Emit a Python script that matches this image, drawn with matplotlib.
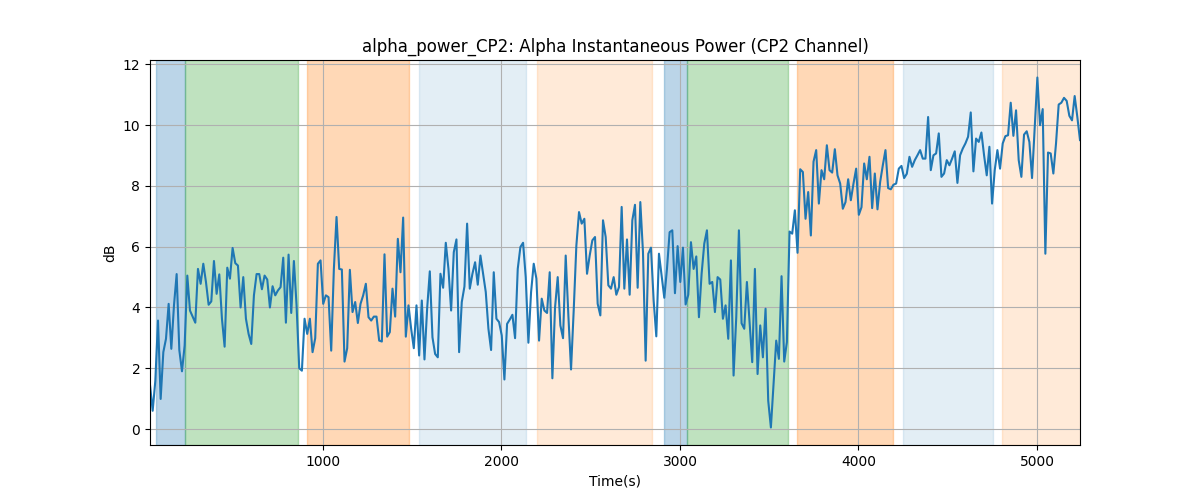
# alpha power trace for CP2 with task blocks shaded
import numpy as np
import matplotlib
matplotlib.use("Agg")
import matplotlib.pyplot as plt

# dB values, one every ~15 s
power_db = [
    1.45, 0.6, 1.59, 3.57, 0.99, 2.53, 2.97, 4.12, 2.64, 4.07, 5.1, 2.6, 1.9, 2.75, 5.05, 3.9, 3.7, 3.5,
    5.27, 4.78, 5.44, 4.84, 4.09, 4.2, 5.53, 4.45, 5.09, 3.63, 2.71, 5.31, 4.95, 5.96, 5.46, 5.38, 4.0,
    5.0, 3.63, 3.13, 2.8, 4.4, 5.1, 5.1, 4.6, 5.05, 4.92, 4.0, 4.7, 4.4, 4.56, 4.67, 5.64, 3.5, 5.74,
    3.82, 5.53, 4.07, 2.0, 1.92, 3.63, 3.13, 3.63, 2.53, 2.99, 5.44, 5.55, 4.12, 4.4, 4.34, 2.58, 5.27,
    6.98, 5.27, 5.25, 2.22, 2.66, 5.24, 3.85, 4.18, 3.49, 4.12, 4.4, 4.78, 3.68, 3.57, 3.7, 3.7, 2.91,
    2.88, 5.75, 3.04, 3.19, 4.62, 3.7, 6.26, 5.16, 6.96, 3.04, 4.07, 3.3, 2.66, 4.07, 2.42, 4.23, 2.29,
    3.96, 5.19,
    3.02, 2.47, 2.36, 5.11, 4.65, 6.13, 5.27, 3.9, 5.82, 6.24, 2.53, 4.18, 4.69, 6.76, 4.62, 5.11, 5.49,
    4.75, 5.71, 5.11, 4.51, 3.3, 2.6, 5.16, 3.63, 3.52, 3.08, 1.63, 3.46, 3.6, 3.76, 2.99, 5.27, 5.99,
    6.13, 5.0,
    2.84, 4.5, 5.44, 4.95, 2.91, 4.29, 3.9, 3.82, 5.16, 1.67, 4.0, 5.0, 3.41, 2.99, 5.71, 3.74, 1.96,
    3.9, 6.04, 7.14, 6.76, 6.92, 5.11, 5.71, 6.21, 6.32, 4.12, 3.74, 6.87, 6.32, 4.73, 4.62, 5.0, 4.42,
    4.67,
    7.31, 4.62, 6.24, 4.42, 6.87, 7.38, 4.65, 7.47, 5.82, 2.25, 5.77, 5.97, 4.23, 3.05, 5.77, 5.05, 4.32,
    5.27, 6.48, 6.54, 4.47, 6.02, 4.84, 5.97, 4.1, 4.42, 6.15, 5.27, 5.68, 3.68, 5.11, 6.1, 6.54, 4.78,
    4.84, 3.85,
    5.0, 4.92, 3.63, 4.07, 2.97, 5.55, 1.76, 3.68, 6.54, 3.48, 3.3, 4.84, 3.52, 2.2, 5.27, 1.81, 3.41,
    2.36, 3.96, 0.93, 0.05, 1.48, 2.91, 2.31, 5.03, 2.22, 2.86, 6.5, 6.43, 7.2, 5.8, 8.55, 8.46, 6.92, 7.8,
    6.37, 8.8, 9.18, 7.42, 8.52, 8.22, 9.34, 8.52, 8.44, 9.21, 8.35, 8.08, 7.25, 7.47, 8.22, 7.53, 8.08,
    8.57, 7.05, 7.3, 8.74, 8.22, 8.96, 7.27, 8.41, 7.23, 8.13, 8.68, 9.18, 7.93, 7.89, 8.04, 8.08, 8.57,
    8.66, 8.26,
    8.4, 8.96, 8.63, 8.85, 9.01, 9.18, 8.9, 8.9, 10.27, 8.52, 9.01, 9.07, 9.73, 8.3, 8.41, 8.85, 8.68,
    8.9, 9.14, 8.1, 9.01, 9.23, 9.4, 9.62, 10.42, 8.48, 9.56, 9.45, 9.76, 9.01, 8.35, 9.29, 7.42, 8.52,
    9.18, 8.57,
    9.4, 9.64, 9.67, 10.74, 9.65, 10.49, 8.85, 8.3, 9.69, 9.8, 9.45, 8.26, 9.95, 11.57, 10.0, 10.53, 5.77,
    9.1, 9.07, 8.41, 9.4, 10.68, 10.74, 10.9, 10.8, 10.31, 10.16, 10.96, 10.27, 9.51,
]
t_start, t_end = 31, 5241
time_s = np.linspace(t_start, t_end, len(power_db))

# task blocks (start, end, colour, alpha)
block_start = [65, 225, 910, 1540, 2200, 2910, 3040, 3655, 4250, 4805]
block_end = [225, 860, 1480, 2135, 2845, 3040, 3605, 4195, 4755, 5300]
block_color = ["tab:blue", "tab:green", "tab:orange", "tab:blue", "tab:orange",
               "tab:blue", "tab:green", "tab:orange", "tab:blue", "tab:orange"]
block_alpha = [0.3, 0.3, 0.3, 0.12, 0.16, 0.3, 0.3, 0.3, 0.12, 0.16]

fig = plt.figure(figsize=(12, 5), dpi=100)
ax = plt.gca()
for s, e, c, a in zip(block_start, block_end, block_color, block_alpha):
    ax.axvspan(s, e, color=c, alpha=a)
ax.plot(time_s, power_db, color="tab:blue", linewidth=1.5)
ax.set_xlim(t_start, t_end)
ax.grid(True)
ax.set_title("alpha_power_CP2: Alpha Instantaneous Power (CP2 Channel)")
ax.set_xlabel("Time(s)")
ax.set_ylabel("dB")
plt.savefig("out.png")
